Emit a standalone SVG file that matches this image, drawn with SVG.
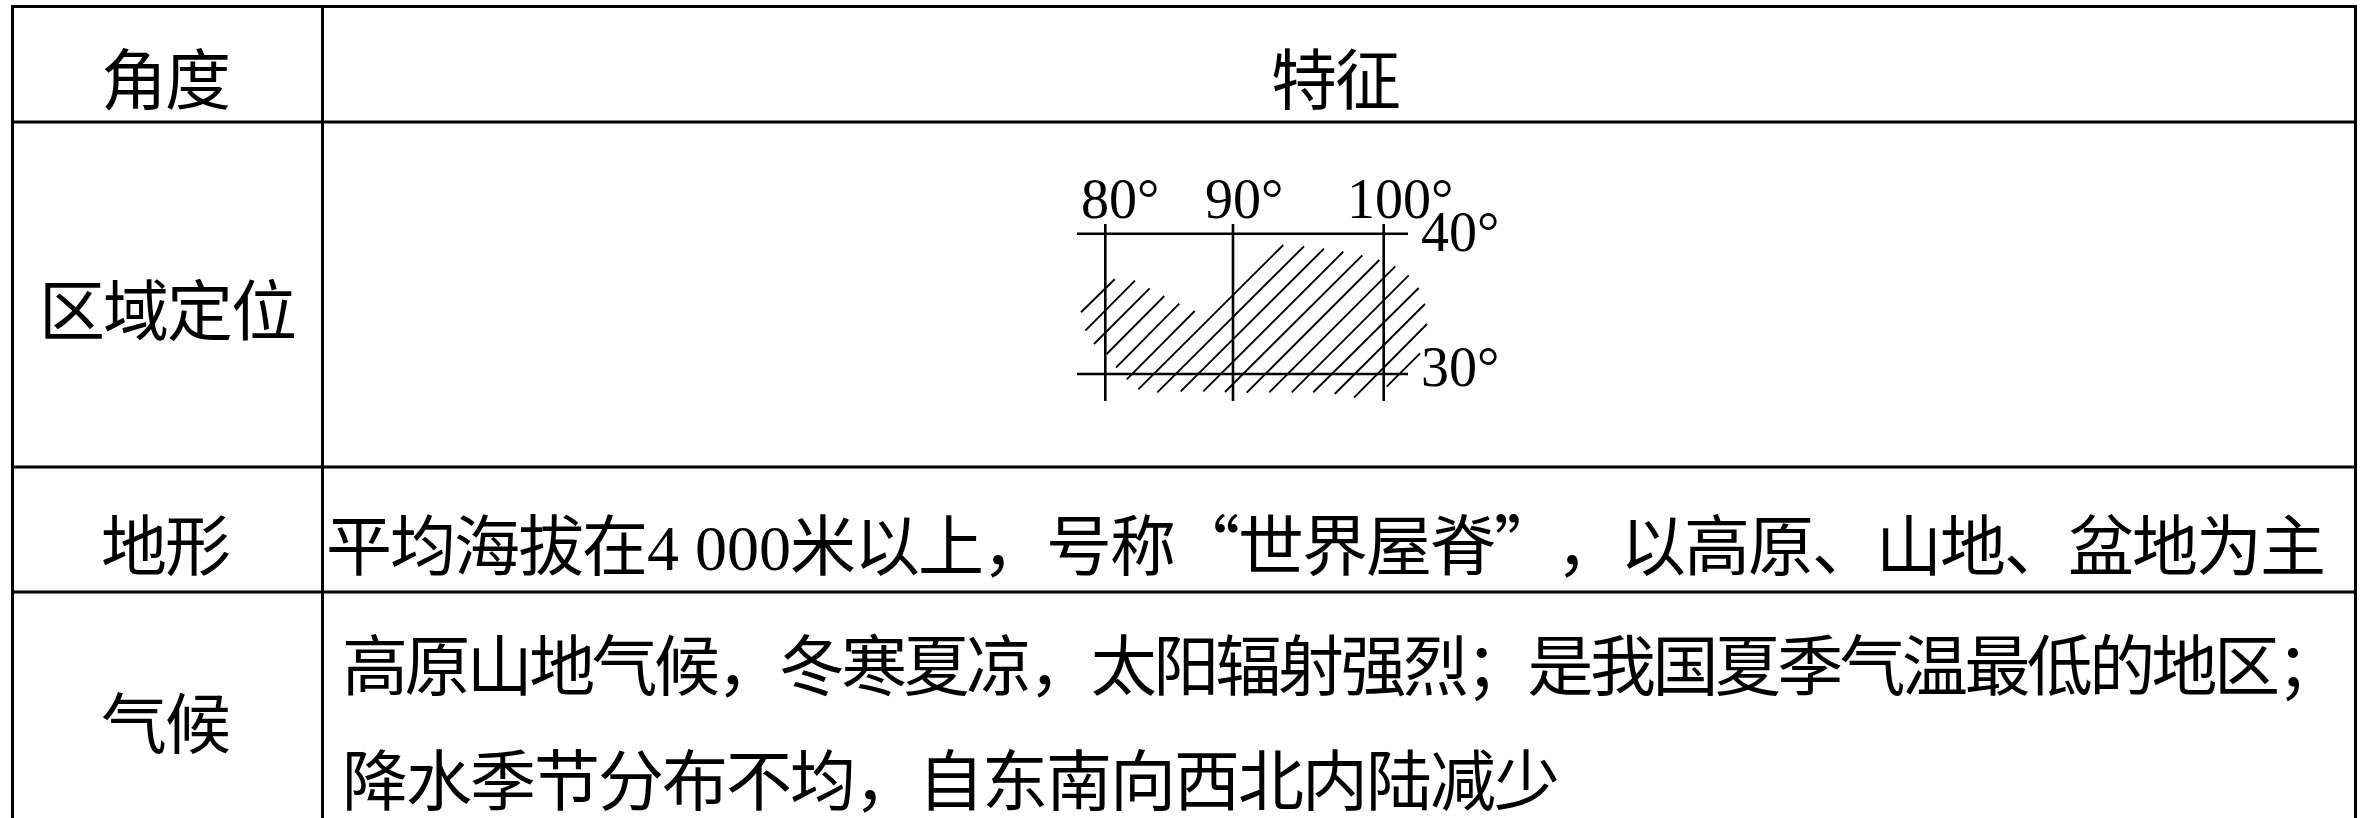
<svg xmlns="http://www.w3.org/2000/svg" width="2369" height="818" viewBox="0 0 2369 818">
<style>
.t{font-family:"Noto Sans CJK SC","Liberation Sans",sans-serif;font-size:66px;letter-spacing:-2px;fill:#000;text-spacing-trim:space-all}
.n{font-family:"Liberation Serif","Times New Roman",serif;font-size:64px;fill:#000}
.m{font-family:"Liberation Serif","Times New Roman",serif;font-size:56px;fill:#000}
.g{stroke:#000;stroke-width:3;fill:none}
.a{stroke:#000;stroke-width:2.600;fill:none}
.h{stroke:#000;stroke-width:1.900;fill:none}
</style>
<rect width="2369" height="818" fill="#fff"/>
<g id="table" class="g">
<path d="M11 6.500H2357M11 122H2357M11 467H2357M11 592H2357M12.500 5V818M322.500 5V818M2355.500 5V818"/>
</g>
<g id="header">
<text class="t" x="101" y="104">角度</text>
<text class="t" x="1271" y="104">特征</text>
</g>
<g id="location">
<text class="t" x="39" y="335">区域定位</text>
<g id="map">
<path class="a" d="M1077 233.700H1408M1077 374H1408M1105.300 224V401M1233 224V401M1383.700 224V401"/>
<path class="h" d="M1081 312.300L1114.700 279.300M1085.300 330.700L1135 280.700M1094 344L1149.700 288.300M1106.700 354L1164.300 296M1116 367.700L1179.300 303.700M1126.700 379.300L1194.700 311M1138.300 389.300L1283.300 245M1157.300 392.300L1304 246.300M1180.700 391.300L1324 248.700M1203.300 391.300L1343.300 251.700M1225 392L1362.300 255.300M1246.700 392.700L1379.300 260M1269.300 392.300L1395.300 266.300M1291.700 392.300L1408.700 275.300M1313.300 392.300L1418.700 288M1334.700 394L1425 304M1354 397.700L1427 324M1386.700 386.700L1420 353.300"/>
<text class="m" x="1081" y="218">80°</text>
<text class="m" x="1205" y="218">90°</text>
<text class="m" x="1347" y="218">100°</text>
<text class="m" x="1421" y="251">40°</text>
<text class="m" x="1421" y="386">30°</text>
</g>
</g>
<g id="terrain">
<text class="t" x="101" y="570">地形</text>
<text class="t" x="326" y="570">平均海拔在</text>
<text class="n" x="647" y="570">4 000</text>
<text class="t" x="790" y="570">米以上，号称“世界屋脊”</text>
<text class="t" x="1556" y="570">，以高原、山地、盆地为主</text>
</g>
<g id="climate">
<text class="t" x="101" y="748">气候</text>
<text class="t" x="342" y="689.500" style="letter-spacing:-3.600px">高原山地气候，冬寒夏凉，太阳辐射强烈；是我国夏季气温最低的地区；</text>
<text class="t" x="342" y="805">降水季节分布不均，自东南向西北内陆减少</text>
</g>
</svg>
